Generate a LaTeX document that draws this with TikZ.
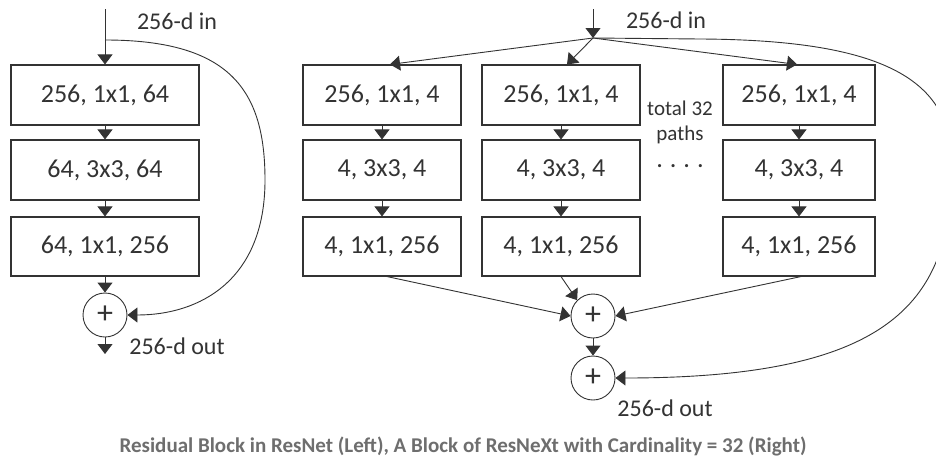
\documentclass[tikz,border=0pt]{standalone}
\usepackage{fontspec}
\setmainfont{Carlito}
\usetikzlibrary{arrows.meta}
\definecolor{ink}{HTML}{333333}
\definecolor{cap}{HTML}{6E6E6E}
\begin{document}
\begin{tikzpicture}[x=1pt,y=-1pt,
  blk/.style={draw=ink,line width=1.1pt,rectangle,minimum height=60pt,inner sep=0pt,
    font=\fontsize{26}{28}\selectfont,text=ink},
  sumnode/.style={draw=ink,line width=0.9pt,circle,minimum size=44pt,inner sep=0pt,
    font=\fontsize{32}{32}\selectfont,text=ink},
  lbl/.style={font=\fontsize{24}{26}\selectfont,text=ink,inner sep=0pt},
  small/.style={font=\fontsize{21}{24}\selectfont,text=ink,inner sep=0pt},
  arr/.style={draw=ink,line width=0.9pt,-{Triangle[width=15pt,length=10pt]}},
  ln/.style={draw=ink,line width=0.9pt}]
\clip (0,0) rectangle (936,463);
\fill[white] (0,0) rectangle (936,463);

% ---------- Left: ResNet block ----------
\node[blk,minimum width=188pt] (L1) at (105,95) {256, 1x1, 64};
\node[blk,minimum width=188pt] (L2) at (105,170) {64, 3x3, 64};
\node[blk,minimum width=188pt,minimum height=59pt] (L3) at (105,246.5) {64, 1x1, 256};
\node[sumnode] (SL) at (105,315) {+};
\coordinate (inL) at (105,9);
\coordinate (brL) at (105,40);
\coordinate (outL) at (105,354);
\node[lbl] (tinL) at (177,21) {256-d in};
\node[lbl] (toutL) at (177,346) {256-d out};

\draw[arr] (inL) -- (L1);
\draw[arr] (L1) -- (L2);
\draw[arr] (L2) -- (L3);
\draw[arr] (L3) -- (SL);
\draw[arr] (SL) -- (outL);
\draw[arr] (brL) .. controls (230,40) and (265,90) .. (265,180)
  .. controls (265,280) and (200,315) .. (SL.east);

% ---------- Right: ResNeXt block ----------
\node[blk,minimum width=158pt] (A1) at (382,95) {256, 1x1, 4};
\node[blk,minimum width=158pt] (A2) at (382,170) {4, 3x3, 4};
\node[blk,minimum width=158pt,minimum height=59pt] (A3) at (382,246.5) {4, 1x1, 256};
\node[blk,minimum width=158pt] (B1) at (561,95) {256, 1x1, 4};
\node[blk,minimum width=158pt] (B2) at (561,170) {4, 3x3, 4};
\node[blk,minimum width=158pt,minimum height=59pt] (B3) at (561,246.5) {4, 1x1, 256};
\node[blk,minimum width=152pt] (C1) at (799,95) {256, 1x1, 4};
\node[blk,minimum width=152pt] (C2) at (799,170) {4, 3x3, 4};
\node[blk,minimum width=152pt,minimum height=59pt] (C3) at (799,246.5) {4, 1x1, 256};
\node[sumnode] (S1) at (593,316) {+};
\node[sumnode] (S2) at (593,378) {+};
\coordinate (inR) at (593,9);
\coordinate (split) at (593,38);
\node[lbl] (tinR) at (666,20) {256-d in};
\node[lbl] (toutR) at (665,408) {256-d out};
\node[small] (tot) at (680,108) {total 32};
\node[small] (pth) at (680,135) {paths};
\node[small] (dots) at (680,166) {\textbf{.\hspace{8pt}.\hspace{8pt}.\hspace{8pt}.}};

\draw[arr] (inR) -- (split);
\draw[arr] (split) -- ([xshift=8pt]A1.north);
\draw[arr] (split) -- ([xshift=6pt]B1.north);
\draw[arr] (split) -- ([xshift=-2pt]C1.north);
\draw[arr] (A1) -- (A2);
\draw[arr] (A2) -- (A3);
\draw[arr] (B1) -- (B2);
\draw[arr] (B2) -- (B3);
\draw[arr] (C1) -- (C2);
\draw[arr] (C2) -- (C3);
\draw[arr] ([xshift=5pt]A3.south) -- (S1.west);
\draw[arr] (B3.south) -- (S1.north west);
\draw[arr] ([xshift=2pt]C3.south) -- (S1.east);
\draw[arr] (S1) -- (S2);
\draw[arr] (split) -- (700,39) .. controls (885,40) and (952,80) .. (952,165)
  .. controls (952,300) and (894,378) .. (S2.east);

% ---------- Caption ----------
\node[font=\fontsize{21}{24}\selectfont\bfseries,text=cap,inner sep=0pt] (caption) at (463,446)
  {Residual Block in ResNet (Left), A Block of ResNeXt with Cardinality = 32 (Right)};
\end{tikzpicture}
\end{document}
